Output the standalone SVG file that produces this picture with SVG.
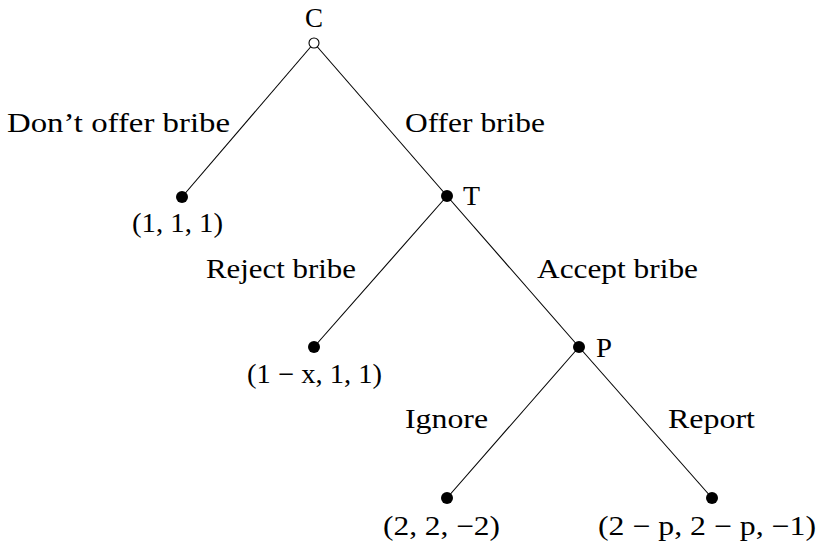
<svg xmlns="http://www.w3.org/2000/svg" width="817" height="547" viewBox="0 0 817 547">
<style>
text{font-family:"Liberation Serif","DejaVu Serif",serif;font-size:27px;fill:#000}
.e{stroke:#000;stroke-width:1.1;fill:none}
.d{fill:#000}
</style>
<rect width="817" height="547" fill="#fff"/>
<g id="connectors">
<line class="e" x1="314" y1="43" x2="182" y2="197"/>
<line class="e" x1="314" y1="43" x2="447" y2="196"/>
<line class="e" x1="447" y1="196" x2="314" y2="347"/>
<line class="e" x1="447" y1="196" x2="579" y2="347"/>
<line class="e" x1="579" y1="347" x2="447" y2="498"/>
<line class="e" x1="579" y1="347" x2="712" y2="498"/>
</g>
<g id="labels">
<text x="7" y="132" textLength="223" lengthAdjust="spacingAndGlyphs">Don’t offer bribe</text>
<text x="405" y="132" textLength="140" lengthAdjust="spacingAndGlyphs">Offer bribe</text>
<text x="206" y="278" textLength="150" lengthAdjust="spacingAndGlyphs">Reject bribe</text>
<text x="537" y="278" textLength="161" lengthAdjust="spacingAndGlyphs">Accept bribe</text>
<text x="405" y="428" textLength="83" lengthAdjust="spacingAndGlyphs">Ignore</text>
<text x="668" y="428" textLength="87" lengthAdjust="spacingAndGlyphs">Report</text>
</g>
<g id="nodeC">
<circle cx="314" cy="43" r="5" fill="#fff" stroke="#000" stroke-width="1.1"/>
<text x="305" y="27" textLength="18" lengthAdjust="spacingAndGlyphs">C</text>
</g>
<g id="leaf1">
<circle class="d" cx="182" cy="197" r="6"/>
<text x="132" y="232" textLength="91" lengthAdjust="spacingAndGlyphs">(1, 1, 1)</text>
</g>
<g id="nodeT">
<circle class="d" cx="447" cy="196" r="6"/>
<text x="463" y="205" textLength="17" lengthAdjust="spacingAndGlyphs">T</text>
</g>
<g id="leaf2">
<circle class="d" cx="314" cy="347" r="6"/>
<text x="247" y="383" textLength="135" lengthAdjust="spacingAndGlyphs">(1 − x, 1, 1)</text>
</g>
<g id="nodeP">
<circle class="d" cx="579" cy="347" r="6"/>
<text x="596" y="357" textLength="16" lengthAdjust="spacingAndGlyphs">P</text>
</g>
<g id="leaf3">
<circle class="d" cx="447" cy="498" r="6"/>
<text x="383" y="535" textLength="117" lengthAdjust="spacingAndGlyphs">(2, 2, −2)</text>
</g>
<g id="leaf4">
<circle class="d" cx="712" cy="498" r="6"/>
<text x="598" y="535" textLength="218" lengthAdjust="spacingAndGlyphs">(2 − p, 2 − p, −1)</text>
</g>
</svg>
